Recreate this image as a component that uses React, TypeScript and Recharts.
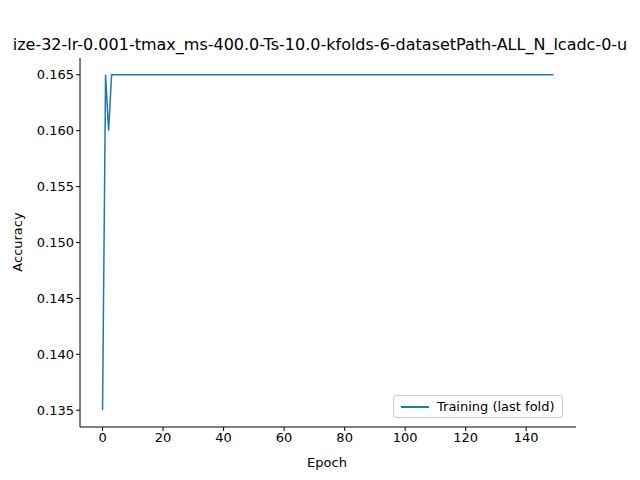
import React from 'react'
import { LineChart, Line, XAxis, YAxis } from 'recharts'

// Accuracy per epoch (last fold): a dip at epoch 2, then flat at 0.165
const earlyAccuracy = [0.135, 0.165, 0.16]
const plateauAccuracy = Array(147).fill(0.165)
const accuracy = [...earlyAccuracy, ...plateauAccuracy]
const xTicks = [0, 20, 40, 60, 80, 100, 120, 140]
const yTicks = [0.135, 0.14, 0.145, 0.15, 0.155, 0.16, 0.165]
const title = 'ize-32-lr-0.001-tmax_ms-400.0-Ts-10.0-kfolds-6-datasetPath-ALL_N_lcadc-0-u'

const data = accuracy.map((v, i) => ({ epoch: i, acc: v }))

const tick = { fill: '#000', fontSize: 13, fontFamily: 'DejaVu Sans' }

export default function App() {
  return (
    <div style={{ position: 'absolute', left: 0, top: 0, width: 640, height: 480, background: '#fff', fontFamily: 'DejaVu Sans' }}>
      <LineChart width={640} height={480} data={data} margin={{ top: 58, right: 64, bottom: 0, left: 0 }}>
        <text x={320} y={50} textAnchor="middle" fontSize={16} fontFamily="DejaVu Sans" fill="#000">{title}</text>
        <text x={327} y={467} textAnchor="middle" fontSize={13} fontFamily="DejaVu Sans" fill="#000">Epoch</text>
        <text x={22} y={242} textAnchor="middle" fontSize={13} fontFamily="DejaVu Sans" fill="#000" transform="rotate(-90 22 242)">Accuracy</text>
        <XAxis dataKey="epoch" type="number" domain={[-7.45, 156.45]} ticks={xTicks} tick={tick}
          tickLine={{ stroke: '#000' }} tickSize={4} axisLine={{ stroke: '#000' }} height={53} />
        <XAxis xAxisId="top" orientation="top" dataKey="epoch" type="number" domain={[-7.45, 156.45]} tick={false} tickLine={false} axisLine={{ stroke: '#000' }} height={0} />
        <YAxis type="number" domain={[0.1335, 0.1665]} ticks={yTicks} tick={tick} tickFormatter={(v) => v.toFixed(3)}
          tickLine={{ stroke: '#000' }} tickSize={4} axisLine={{ stroke: '#000' }} width={80} />
        <YAxis yAxisId="right" orientation="right" domain={[0.1335, 0.1665]} tick={false} tickLine={false} axisLine={{ stroke: '#000' }} width={0} />
        <Line dataKey="acc" stroke="#1f77b4" strokeWidth={1.5} dot={false} isAnimationActive={false} name="Training (last fold)" />
      </LineChart>
      <div style={{ position: 'absolute', left: 393, top: 395, border: '1px solid #ccc', borderRadius: 3, padding: '3px 7px', background: '#fff', fontSize: 13, display: 'flex', alignItems: 'center' }}>
        <span style={{ display: 'inline-block', width: 28, height: 2, background: '#1f77b4', marginRight: 8 }} />
        Training (last fold)
      </div>
    </div>
  )
}
